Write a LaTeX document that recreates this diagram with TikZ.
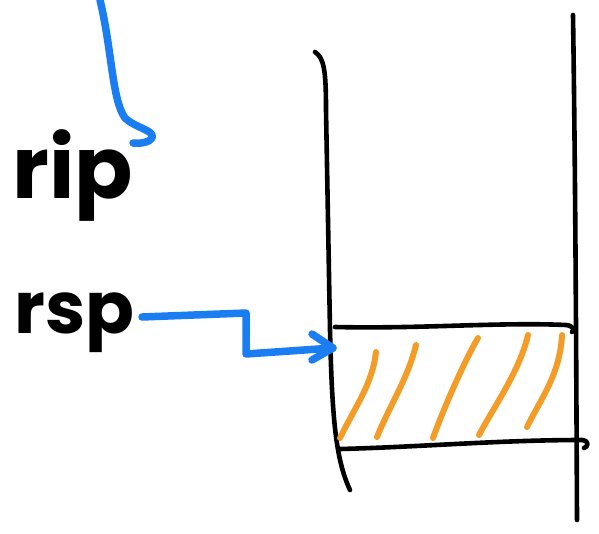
\documentclass[tikz,border=0pt]{standalone}
\usepackage{fontspec}
\setmainfont{Poppins}
\definecolor{penblue}{HTML}{1A7DF2}
\definecolor{penorange}{HTML}{F39C27}
\tikzset{
  ink/.style={line width=4.6pt, line cap=round, line join=round, black},
  bluepen/.style={line width=7.5pt, line cap=round, line join=round, penblue},
  hatch/.style={line width=6pt, line cap=round, penorange},
  label/.style={inner sep=0pt, anchor=base west, font=\fontsize{#1}{#1}\selectfont\bfseries}
}
\begin{document}
\begin{tikzpicture}[x=1pt,y=-1pt]
\useasboundingbox (0,0) rectangle (599,533);
% labels
\node[label=86] (rip) at (12,198) {rip};
\node[label=72] (rsp) at (14,333) {rsp};
% stack walls
\draw[ink] (315,52) .. controls (324,58) and (326,70) .. (326,110) -- (330,330) .. controls (332,420) and (336,460) .. (350,490);
\draw[ink] (573,15) .. controls (575,150) and (576,300) .. (577,520);
% frame of slot
\draw[ink] (335,327) .. controls (420,329) and (500,322) .. (566,325) .. controls (574,326) and (574,330) .. (572,332);
\draw[ink] (340,449) .. controls (420,447) and (500,440) .. (582,440) .. controls (590,441) and (588,447) .. (584,448);
% hatching
\draw[hatch] (340,438) .. controls (356,405) and (372,385) .. (376,352);
\draw[hatch] (377,437) .. controls (390,405) and (408,378) .. (416,345);
\draw[hatch] (433,438) .. controls (445,405) and (465,360) .. (478,338);
\draw[hatch] (479,435) .. controls (495,405) and (520,370) .. (528,335);
\draw[hatch] (527,427) .. controls (540,400) and (560,375) .. (562,335);
% blue arrows
\coordinate (top) at (100,0);
\coordinate (hook) at (133,143);
\draw[bluepen] (top) .. controls (112,50) and (112,100) .. (125,118) .. controls (135,128) and (155,130) .. (152,138) .. controls (150,142) and (140,144) .. (hook);
\coordinate (slot) at (333,348);
\draw[bluepen] (142,317) -- (246,313) -- (246,354) -- (slot);
\draw[bluepen] (312,334) -- (slot) -- (312,360);
\end{tikzpicture}
\end{document}
